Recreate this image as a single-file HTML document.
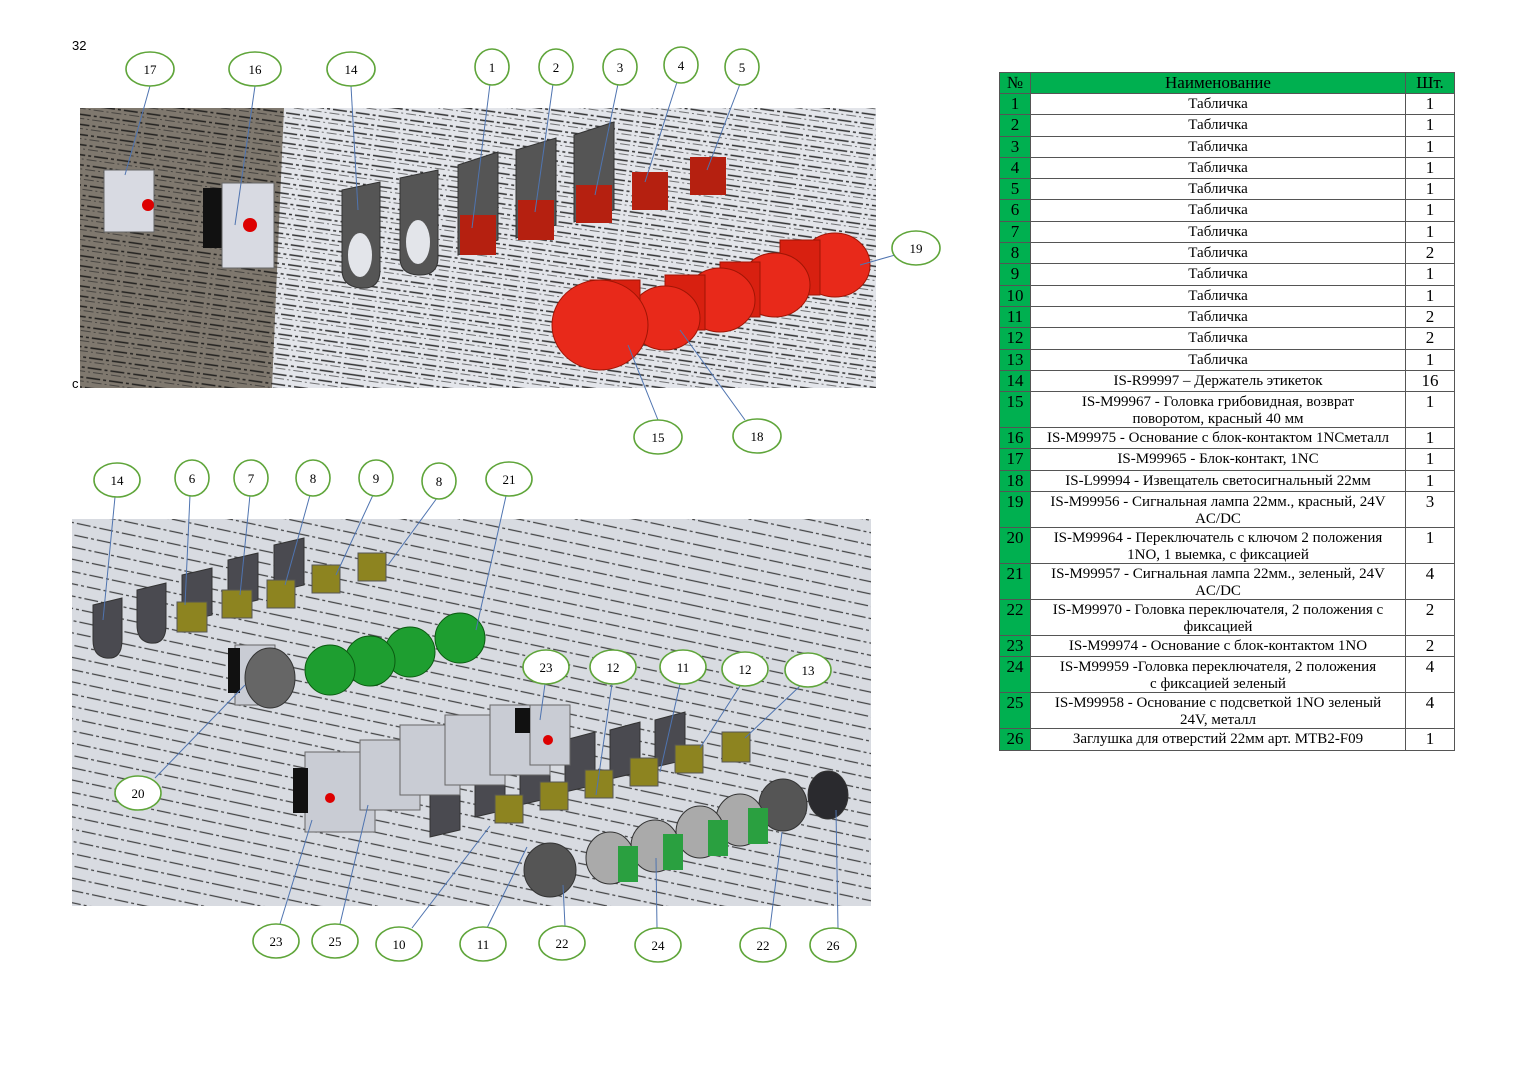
<!DOCTYPE html>
<html><head><meta charset="utf-8">
<style>
body{margin:0;background:#fff;width:1527px;height:1080px;position:relative;overflow:hidden;font-family:"Liberation Serif",serif;}
svg{position:absolute;left:0;top:0}
table{position:absolute;left:999px;top:72px;border-collapse:collapse;font-family:"Liberation Serif",serif;font-size:15px;width:456px;}
td{border:1px solid #555;padding:2px 3px 0 3px;text-align:center;line-height:16.5px;vertical-align:top;white-space:nowrap;}
td.n{background:#00b050;width:24px;font-size:17px;}
td.q{width:42px;font-size:17px;}
tr.h td{background:#00b050;font-size:17px;height:18px}
tr td{height:18.3px}
tr.d td{height:32.7px}
</style></head><body>
<svg width="1527" height="1080" viewBox="0 0 1527 1080">
<defs>
<pattern id="dl" width="400" height="10" patternUnits="userSpaceOnUse" patternTransform="rotate(8)">
<line x1="0" y1="2" x2="400" y2="2" stroke="#111" stroke-width="1.4" stroke-dasharray="14 3 3 3" opacity=".85"/>
<line x1="0" y1="6" x2="400" y2="6" stroke="#222" stroke-width="1.1" stroke-dasharray="10 3 2 3" opacity=".6"/>
</pattern>
<pattern id="dl2" width="400" height="12" patternUnits="userSpaceOnUse" patternTransform="rotate(12)">
<line x1="0" y1="4" x2="400" y2="4" stroke="#111" stroke-width="1.3" stroke-dasharray="14 3 3 3" opacity=".75"/>
</pattern>
</defs>
<text x="72" y="50" font-family="Liberation Sans" font-size="13">32</text>
<rect x="80" y="108" width="796" height="280" fill="#e3e5ea"/>
<polygon points="80,108 284,108 272,388 80,388" fill="#7f786e"/>
<rect x="80" y="108" width="796" height="280" fill="url(#dl)"/>
<text x="72" y="388" font-family="Liberation Sans" font-size="13">c</text>
<rect x="104" y="170" width="50" height="62" fill="#d8dae2" stroke="#666"/>
<circle cx="148" cy="205" r="6" fill="#d00"/>
<rect x="203" y="188" width="24" height="60" fill="#111"/>
<rect x="222" y="183" width="52" height="85" fill="#d8dae2" stroke="#666"/>
<circle cx="250" cy="225" r="7" fill="#d00"/>
<g fill="#555" stroke="#333">
<path d="M342 190 L380 182 L380 270 Q380 290 360 288 Q342 286 342 270Z"/>
<path d="M400 178 L438 170 L438 258 Q438 276 418 275 Q400 274 400 258Z"/>
<path d="M458 165 L498 152 L498 240 L458 255Z"/>
<path d="M516 150 L556 138 L556 225 L516 238Z"/>
<path d="M574 135 L614 122 L614 210 L574 222Z"/>
</g>
<g fill="#e3e5ea"><ellipse cx="360" cy="255" rx="12" ry="22"/><ellipse cx="418" cy="242" rx="12" ry="22"/></g>
<g fill="#b52010">
<rect x="460" y="215" width="36" height="40"/><rect x="518" y="200" width="36" height="40"/><rect x="576" y="185" width="36" height="38"/>
<rect x="632" y="172" width="36" height="38"/><rect x="690" y="157" width="36" height="38"/>
</g>
<g fill="#e8291a" stroke="#a01505">
<ellipse cx="835" cy="265" rx="35" ry="32"/><rect x="780" y="240" width="40" height="55" fill="#d82010"/><ellipse cx="775" cy="285" rx="35" ry="32"/>
<rect x="720" y="262" width="40" height="55" fill="#d82010"/><ellipse cx="720" cy="300" rx="35" ry="32"/>
<rect x="665" y="275" width="40" height="55" fill="#d82010"/><ellipse cx="665" cy="318" rx="35" ry="32"/>
<rect x="590" y="280" width="50" height="60" fill="#d82010"/><ellipse cx="600" cy="325" rx="48" ry="45"/>
</g>
<rect x="72" y="519" width="799" height="387" fill="#d8dbe1"/>
<rect x="72" y="519" width="799" height="387" fill="url(#dl2)"/>
<g fill="#4a4a50" stroke="#333">
<path d="M93 605 L122 598 L122 640 Q122 660 106 658 Q93 656 93 640Z"/>
<path d="M137 590 L166 583 L166 625 Q166 645 150 643 Q137 641 137 625Z"/>
<path d="M182 575 L212 568 L212 615 L182 622Z"/><path d="M228 560 L258 553 L258 600 L228 607Z"/><path d="M274 545 L304 538 L304 585 L274 592Z"/>
<path d="M430 775 L460 768 L460 830 L430 837Z"/><path d="M475 763 L505 756 L505 810 L475 817Z"/><path d="M520 750 L550 742 L550 798 L520 805Z"/>
<path d="M565 740 L595 732 L595 785 L565 792Z"/><path d="M610 730 L640 722 L640 772 L610 779Z"/><path d="M655 720 L685 712 L685 760 L655 767Z"/>
</g>
<g fill="#8d8420" stroke="#555">
<rect x="177" y="602" width="30" height="30"/><rect x="222" y="590" width="30" height="28"/><rect x="267" y="580" width="28" height="28"/>
<rect x="312" y="565" width="28" height="28"/><rect x="358" y="553" width="28" height="28"/>
<rect x="495" y="795" width="28" height="28"/><rect x="540" y="782" width="28" height="28"/><rect x="585" y="770" width="28" height="28"/>
<rect x="630" y="758" width="28" height="28"/><rect x="675" y="745" width="28" height="28"/><rect x="722" y="732" width="28" height="30"/>
</g>
<g fill="#c9ccd4" stroke="#666">
<rect x="305" y="752" width="70" height="80"/><rect x="360" y="740" width="60" height="70"/><rect x="400" y="725" width="60" height="70"/>
<rect x="445" y="715" width="60" height="70"/><rect x="490" y="705" width="60" height="70"/><rect x="530" y="705" width="40" height="60"/>
<rect x="235" y="645" width="40" height="60"/>
</g>
<rect x="293" y="768" width="15" height="45" fill="#111"/><rect x="228" y="648" width="12" height="45" fill="#111"/><rect x="515" y="708" width="15" height="25" fill="#111"/>
<circle cx="330" cy="798" r="5" fill="#d00"/><circle cx="548" cy="740" r="5" fill="#d00"/>
<ellipse cx="270" cy="678" rx="25" ry="30" fill="#666" stroke="#333"/>
<g fill="#1e9e30" stroke="#0a5a10">
<ellipse cx="460" cy="638" rx="25" ry="25"/><ellipse cx="410" cy="652" rx="25" ry="25"/><ellipse cx="370" cy="661" rx="25" ry="25"/><ellipse cx="330" cy="670" rx="25" ry="25"/>
</g>
<g stroke="#333">
<ellipse cx="828" cy="795" rx="20" ry="24" fill="#2a2a2e"/>
<ellipse cx="783" cy="805" rx="24" ry="26" fill="#555"/>
<ellipse cx="740" cy="820" rx="24" ry="26" fill="#aaa"/><ellipse cx="700" cy="832" rx="24" ry="26" fill="#aaa"/>
<ellipse cx="655" cy="846" rx="24" ry="26" fill="#aaa"/><ellipse cx="610" cy="858" rx="24" ry="26" fill="#aaa"/>
<ellipse cx="550" cy="870" rx="26" ry="27" fill="#555"/>
</g>
<g fill="#2aa040"><rect x="748" y="808" width="20" height="36"/><rect x="708" y="820" width="20" height="36"/><rect x="663" y="834" width="20" height="36"/><rect x="618" y="846" width="20" height="36"/></g>
<g stroke="#4f74b0" stroke-width="1">
<line x1="150" y1="86" x2="125" y2="175"/><line x1="255" y1="86" x2="235" y2="225"/><line x1="351" y1="86" x2="358" y2="210"/>
<line x1="490" y1="84" x2="472" y2="228"/><line x1="553" y1="84" x2="535" y2="212"/><line x1="618" y1="84" x2="595" y2="195"/>
<line x1="677" y1="82" x2="645" y2="182"/><line x1="740" y1="84" x2="707" y2="170"/><line x1="895" y1="255" x2="860" y2="265"/>
<line x1="658" y1="420" x2="628" y2="345"/><line x1="745" y1="420" x2="680" y2="330"/>
<line x1="115" y1="497" x2="103" y2="620"/><line x1="190" y1="495" x2="185" y2="605"/><line x1="250" y1="495" x2="240" y2="595"/>
<line x1="310" y1="495" x2="285" y2="585"/><line x1="373" y1="495" x2="336" y2="575"/><line x1="437" y1="498" x2="388" y2="565"/>
<line x1="506" y1="496" x2="476" y2="630"/><line x1="155" y1="778" x2="245" y2="685"/>
<line x1="545" y1="684" x2="540" y2="720"/><line x1="612" y1="684" x2="596" y2="795"/><line x1="680" y1="684" x2="660" y2="772"/>
<line x1="740" y1="686" x2="700" y2="748"/><line x1="800" y1="686" x2="745" y2="738"/>
<line x1="280" y1="924" x2="312" y2="820"/><line x1="340" y1="924" x2="368" y2="805"/><line x1="412" y1="928" x2="490" y2="826"/>
<line x1="487" y1="928" x2="527" y2="847"/><line x1="565" y1="926" x2="563" y2="885"/><line x1="657" y1="928" x2="656" y2="858"/>
<line x1="770" y1="928" x2="782" y2="832"/><line x1="838" y1="928" x2="836" y2="810"/>
</g>
<g fill="#fff" stroke="#5fa53a" stroke-width="1.6">
<ellipse cx="150" cy="69" rx="24" ry="17"/><ellipse cx="255" cy="69" rx="26" ry="17"/><ellipse cx="351" cy="69" rx="24" ry="17"/>
<ellipse cx="492" cy="67" rx="17" ry="18"/><ellipse cx="556" cy="67" rx="17" ry="18"/><ellipse cx="620" cy="67" rx="17" ry="18"/>
<ellipse cx="681" cy="65" rx="17" ry="18"/><ellipse cx="742" cy="67" rx="17" ry="18"/><ellipse cx="916" cy="248" rx="24" ry="17"/>
<ellipse cx="658" cy="437" rx="24" ry="17"/><ellipse cx="757" cy="436" rx="24" ry="17"/>
<ellipse cx="117" cy="480" rx="23" ry="17"/><ellipse cx="192" cy="478" rx="17" ry="18"/><ellipse cx="251" cy="478" rx="17" ry="18"/>
<ellipse cx="313" cy="478" rx="17" ry="18"/><ellipse cx="376" cy="478" rx="17" ry="18"/><ellipse cx="439" cy="481" rx="17" ry="18"/>
<ellipse cx="509" cy="479" rx="23" ry="17"/><ellipse cx="546" cy="667" rx="23" ry="17"/><ellipse cx="613" cy="667" rx="23" ry="17"/>
<ellipse cx="683" cy="667" rx="23" ry="17"/><ellipse cx="745" cy="669" rx="23" ry="17"/><ellipse cx="808" cy="670" rx="23" ry="17"/>
<ellipse cx="138" cy="793" rx="23" ry="17"/><ellipse cx="276" cy="941" rx="23" ry="17"/><ellipse cx="335" cy="941" rx="23" ry="17"/>
<ellipse cx="399" cy="944" rx="23" ry="17"/><ellipse cx="483" cy="944" rx="23" ry="17"/><ellipse cx="562" cy="943" rx="23" ry="17"/>
<ellipse cx="658" cy="945" rx="23" ry="17"/><ellipse cx="763" cy="945" rx="23" ry="17"/><ellipse cx="833" cy="945" rx="23" ry="17"/>
</g>
<g font-family="Liberation Serif" font-size="13" text-anchor="middle" fill="#000">
<text x="150" y="74">17</text><text x="255" y="74">16</text><text x="351" y="74">14</text><text x="492" y="72">1</text><text x="556" y="72">2</text>
<text x="620" y="72">3</text><text x="681" y="70">4</text><text x="742" y="72">5</text><text x="916" y="253">19</text><text x="658" y="442">15</text><text x="757" y="441">18</text>
<text x="117" y="485">14</text><text x="192" y="483">6</text><text x="251" y="483">7</text><text x="313" y="483">8</text><text x="376" y="483">9</text><text x="439" y="486">8</text>
<text x="509" y="484">21</text><text x="546" y="672">23</text><text x="613" y="672">12</text><text x="683" y="672">11</text><text x="745" y="674">12</text><text x="808" y="675">13</text>
<text x="138" y="798">20</text><text x="276" y="946">23</text><text x="335" y="946">25</text><text x="399" y="949">10</text><text x="483" y="949">11</text>
<text x="562" y="948">22</text><text x="658" y="950">24</text><text x="763" y="950">22</text><text x="833" y="950">26</text>
</g>
</svg>
<table>
<tr class="h"><td class="n">№</td><td>Наименование</td><td class="q">Шт.</td></tr>
<tr><td class="n">1</td><td>Табличка</td><td class="q">1</td></tr>
<tr><td class="n">2</td><td>Табличка</td><td class="q">1</td></tr>
<tr><td class="n">3</td><td>Табличка</td><td class="q">1</td></tr>
<tr><td class="n">4</td><td>Табличка</td><td class="q">1</td></tr>
<tr><td class="n">5</td><td>Табличка</td><td class="q">1</td></tr>
<tr><td class="n">6</td><td>Табличка</td><td class="q">1</td></tr>
<tr><td class="n">7</td><td>Табличка</td><td class="q">1</td></tr>
<tr><td class="n">8</td><td>Табличка</td><td class="q">2</td></tr>
<tr><td class="n">9</td><td>Табличка</td><td class="q">1</td></tr>
<tr><td class="n">10</td><td>Табличка</td><td class="q">1</td></tr>
<tr><td class="n">11</td><td>Табличка</td><td class="q">2</td></tr>
<tr><td class="n">12</td><td>Табличка</td><td class="q">2</td></tr>
<tr><td class="n">13</td><td>Табличка</td><td class="q">1</td></tr>
<tr><td class="n">14</td><td>IS-R99997 – Держатель этикеток</td><td class="q">16</td></tr>
<tr class="d"><td class="n">15</td><td>IS-M99967 - Головка грибовидная, возврат<br>поворотом, красный 40 мм</td><td class="q">1</td></tr>
<tr><td class="n">16</td><td>IS-M99975 - Основание с блок-контактом 1NCметалл</td><td class="q">1</td></tr>
<tr><td class="n">17</td><td>IS-M99965 - Блок-контакт, 1NC</td><td class="q">1</td></tr>
<tr><td class="n">18</td><td>IS-L99994 - Извещатель светосигнальный 22мм</td><td class="q">1</td></tr>
<tr class="d"><td class="n">19</td><td>IS-M99956 - Сигнальная лампа 22мм., красный, 24V<br>AC/DC</td><td class="q">3</td></tr>
<tr class="d"><td class="n">20</td><td>IS-M99964 - Переключатель с ключом 2 положения<br>1NO, 1 выемка, с фиксацией</td><td class="q">1</td></tr>
<tr class="d"><td class="n">21</td><td>IS-M99957 - Сигнальная лампа 22мм., зеленый, 24V<br>AC/DC</td><td class="q">4</td></tr>
<tr class="d"><td class="n">22</td><td>IS-M99970 - Головка переключателя, 2 положения с<br>фиксацией</td><td class="q">2</td></tr>
<tr><td class="n">23</td><td>IS-M99974 - Основание с блок-контактом 1NO</td><td class="q">2</td></tr>
<tr class="d"><td class="n">24</td><td>IS-M99959 -Головка переключателя, 2 положения<br>с фиксацией зеленый</td><td class="q">4</td></tr>
<tr class="d"><td class="n">25</td><td>IS-M99958 - Основание с подсветкой 1NO зеленый<br>24V, металл</td><td class="q">4</td></tr>
<tr><td class="n">26</td><td>Заглушка для отверстий 22мм арт. MTB2-F09</td><td class="q">1</td></tr>
</table>
</body></html>
